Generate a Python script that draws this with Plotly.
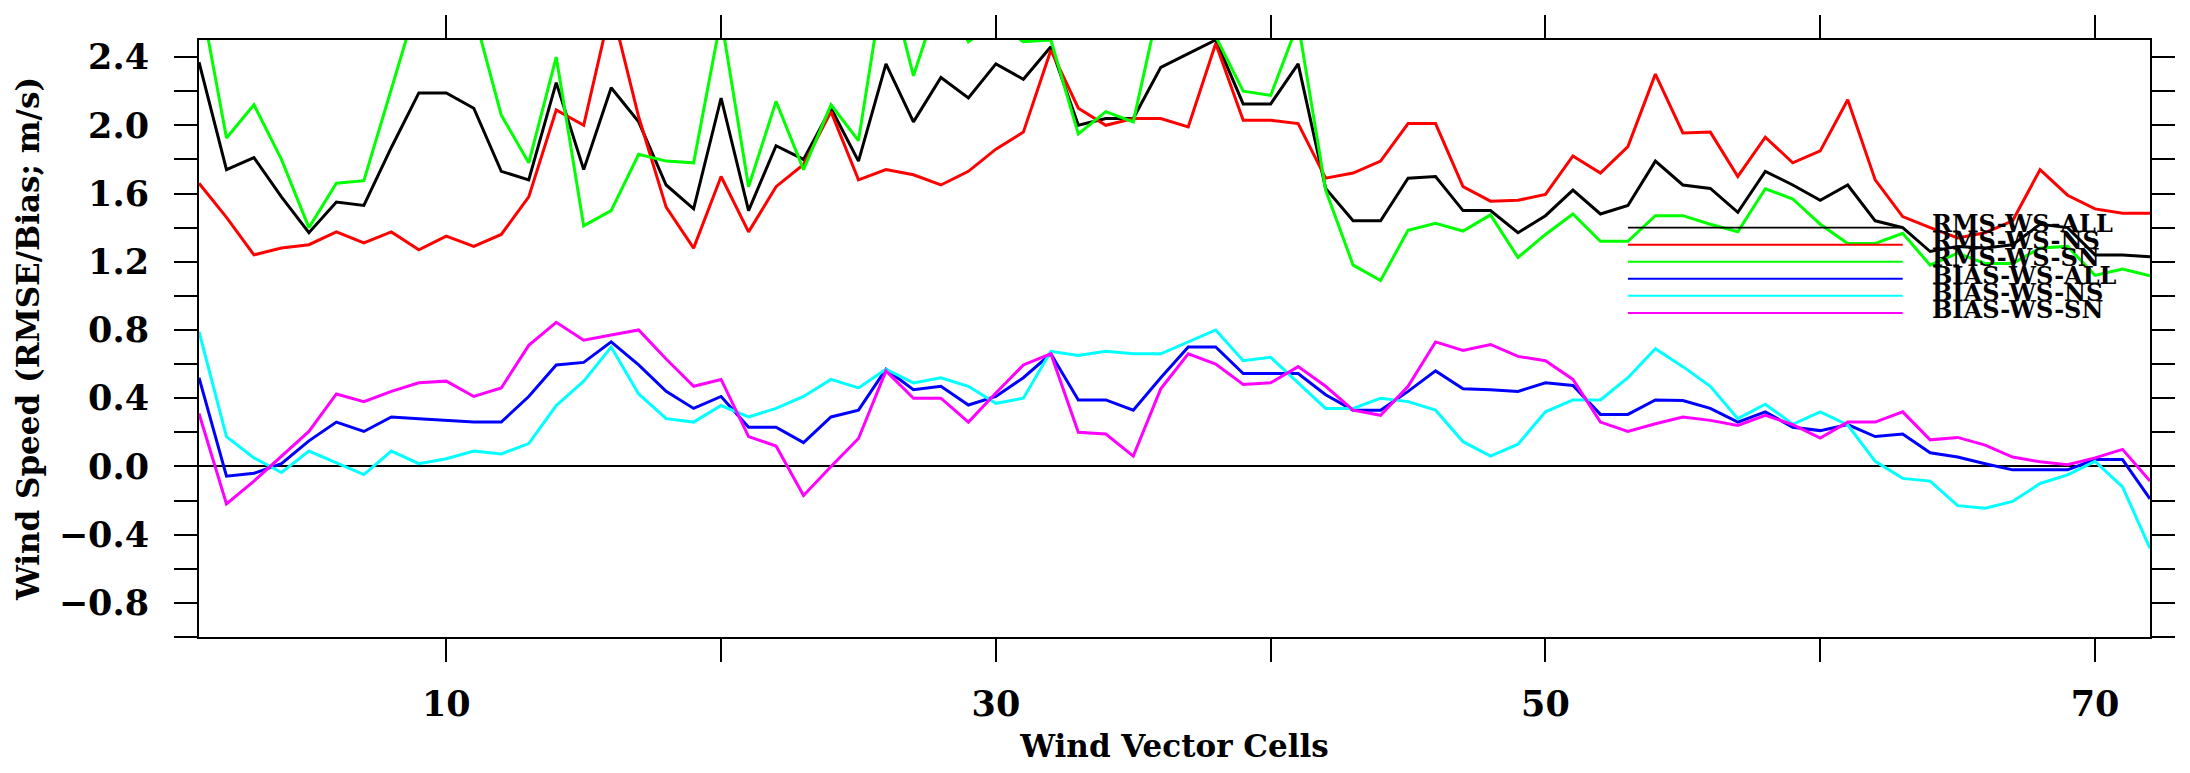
import plotly.graph_objects as go

cells = list(range(1, 73))

rms_ws_all = [2.37, 1.74, 1.81, 1.58, 1.37, 1.55, 1.53, 1.87, 2.19, 2.19,
              2.10, 1.73, 1.68, 2.25, 1.74, 2.22, 2.02, 1.65, 1.51, 2.16,
              1.50, 1.88, 1.80, 2.10, 1.79, 2.36, 2.02, 2.28, 2.16, 2.36,
              2.27, 2.46, 2.00, 2.04, 2.04, 2.34, 2.42, 2.50, 2.125, 2.125,
              2.36, 1.63, 1.44, 1.44, 1.69, 1.70, 1.50, 1.50, 1.37, 1.47,
              1.62, 1.48, 1.53, 1.79, 1.65, 1.63, 1.49, 1.73, 1.65, 1.56,
              1.65, 1.44, 1.40, 1.26, 1.29, 1.28, 1.30, 1.42, 1.40, 1.24,
              1.24, 1.23]

rms_ws_ns = [1.66, 1.46, 1.24, 1.28, 1.30, 1.375, 1.31, 1.375, 1.27, 1.35,
             1.29, 1.36, 1.58, 2.09, 2.00, 2.70, 2.05, 1.52, 1.28, 1.70,
             1.375, 1.64, 1.77, 2.08, 1.68, 1.74, 1.71, 1.65, 1.73, 1.86,
             1.96, 2.44, 2.10, 2.00, 2.04, 2.04, 1.99, 2.48, 2.03, 2.03,
             2.01, 1.69, 1.72, 1.79, 2.01, 2.01, 1.64, 1.555, 1.56, 1.595,
             1.82, 1.72, 1.875, 2.30, 1.955, 1.96, 1.70, 1.93, 1.78, 1.85,
             2.15, 1.68, 1.465, 1.40, 1.34, 1.37, 1.44, 1.74, 1.59, 1.51,
             1.485, 1.485]

rms_ws_sn = [2.80, 1.925, 2.12, 1.80, 1.40, 1.66, 1.675, 2.20, 2.75, 2.85,
             2.66, 2.06, 1.78, 2.40, 1.41, 1.50, 1.83, 1.79, 1.78, 2.63,
             1.64, 2.14, 1.74, 2.12, 1.91, 2.93, 2.29, 2.78, 2.49, 2.60,
             2.49, 2.50, 1.95, 2.08, 2.02, 2.75, 2.75, 2.52, 2.20, 2.175,
             2.60, 1.62, 1.18, 1.09, 1.385, 1.425, 1.38, 1.475, 1.225, 1.36,
             1.48, 1.32, 1.32, 1.47, 1.47, 1.42, 1.376, 1.628, 1.568, 1.42,
             1.307, 1.307, 1.367, 1.18, 1.25, 1.19, 1.19, 1.28, 1.29, 1.12,
             1.157, 1.117]

bias_ws_all = [0.52, -0.057, -0.04, 0.016, 0.15, 0.26, 0.205, 0.29, 0.28, 0.27,
               0.26, 0.26, 0.41, 0.595, 0.61, 0.73, 0.595, 0.44, 0.34, 0.41,
               0.23, 0.23, 0.14, 0.29, 0.33, 0.57, 0.45, 0.47, 0.36, 0.41,
               0.52, 0.66, 0.39, 0.39, 0.33, 0.52, 0.70, 0.70, 0.545, 0.545,
               0.545, 0.42, 0.33, 0.33, 0.44, 0.56, 0.455, 0.45, 0.44, 0.49,
               0.475, 0.305, 0.305, 0.39, 0.386, 0.34, 0.26, 0.32, 0.23, 0.21,
               0.245, 0.175, 0.19, 0.08, 0.055, 0.016, -0.02, -0.02, -0.02, 0.04,
               0.04, -0.19]

bias_ws_ns = [0.79, 0.175, 0.05, -0.036, 0.09, 0.02, -0.048, 0.09, 0.016, 0.045,
              0.09, 0.073, 0.134, 0.357, 0.50, 0.70, 0.425, 0.28, 0.26, 0.357,
              0.29, 0.34, 0.41, 0.51, 0.46, 0.57, 0.49, 0.52, 0.47, 0.37,
              0.40, 0.675, 0.65, 0.675, 0.66, 0.66, 0.73, 0.80, 0.62, 0.64,
              0.49, 0.34, 0.34, 0.40, 0.38, 0.33, 0.145, 0.06, 0.13, 0.32,
              0.39, 0.39, 0.52, 0.69, 0.585, 0.47, 0.28, 0.365, 0.247, 0.32,
              0.243, 0.03, -0.07, -0.086, -0.23, -0.245, -0.205, -0.10, -0.05, 0.03,
              -0.12, -0.48]

bias_ws_sn = [0.31, -0.22, -0.086, 0.06, 0.205, 0.425, 0.38, 0.44, 0.49, 0.50,
              0.41, 0.46, 0.71, 0.845, 0.74, 0.77, 0.80, 0.63, 0.47, 0.51,
              0.175, 0.12, -0.17, 0.0, 0.164, 0.56, 0.40, 0.40, 0.26, 0.43,
              0.595, 0.66, 0.20, 0.19, 0.06, 0.455, 0.66, 0.60, 0.48, 0.49,
              0.585, 0.47, 0.33, 0.30, 0.47, 0.73, 0.68, 0.715, 0.645, 0.62,
              0.51, 0.26, 0.205, 0.25, 0.29, 0.27, 0.24, 0.30, 0.245, 0.166,
              0.26, 0.26, 0.32, 0.156, 0.17, 0.125, 0.055, 0.027, 0.01, 0.05,
              0.10, -0.086]

series_names = ["RMS-WS-ALL", "RMS-WS-NS", "RMS-WS-SN",
                "BIAS-WS-ALL", "BIAS-WS-NS", "BIAS-WS-SN"]
series_values = [rms_ws_all, rms_ws_ns, rms_ws_sn,
                 bias_ws_all, bias_ws_ns, bias_ws_sn]
series_colors = ["#000000", "#ff0000", "#00ff00", "#0000ff", "#00ffff", "#ff00ff"]

x_tick_vals = [10, 20, 30, 40, 50, 60, 70]
x_tick_text = ["10", "", "30", "", "50", "", "70"]
y_tick_vals = [-1.0, -0.8, -0.6, -0.4, -0.2, 0.0, 0.2, 0.4, 0.6, 0.8,
               1.0, 1.2, 1.4, 1.6, 1.8, 2.0, 2.2, 2.4]
y_tick_text = ["", "\u22120.8", "", "\u22120.4", "", "0.0", "", "0.4", "", "0.8",
               "", "1.2", "", "1.6", "", "2.0", "", "2.4"]

FONT = "DejaVu Serif"

fig = go.Figure()
for name, vals, col in zip(series_names, series_values, series_colors):
    fig.add_trace(go.Scatter(x=cells, y=vals, mode="lines", name=name,
                             line=dict(color=col, width=3),
                             showlegend=False, hoverinfo="skip"))

# in-plot legend (drawn in data coordinates, like the original)
leg_x0, leg_x1, leg_xt = 53.0, 63.0, 64.0
leg_y0, leg_dy = 1.4, 0.1
shapes = []
annotations = []
for i, (name, col) in enumerate(zip(series_names, series_colors)):
    yy = leg_y0 - i * leg_dy
    shapes.append(dict(type="line", xref="x", yref="y", x0=leg_x0, x1=leg_x1,
                       y0=yy, y1=yy, line=dict(color=col, width=1.6 if i == 0 else 2)))
    annotations.append(dict(x=leg_xt, y=yy + 0.022, xref="x", yref="y",
                            text="<b>" + name + "</b>",
                            showarrow=False, xanchor="left", yanchor="middle",
                            font=dict(family=FONT, size=24, color="black")))

fig.update_layout(
    width=2174, height=757,
    margin=dict(l=191, r=14, t=7, b=111, pad=0),
    paper_bgcolor="white", plot_bgcolor="white",
    shapes=shapes, annotations=annotations,
    font=dict(family=FONT, color="black"),
)
fig.update_xaxes(
    range=[1, 72], tickmode="array", tickvals=x_tick_vals, ticktext=x_tick_text,
    ticks="outside", ticklen=23, tickwidth=2, tickcolor="black",
    showline=True, linewidth=2, linecolor="black", mirror="ticks",
    showgrid=False, zeroline=False,
    tickfont=dict(family=FONT, size=35, color="black", weight="bold"),
    ticklabelstandoff=12,
    title=dict(text="Wind Vector Cells",
               font=dict(family=FONT, size=31, color="black", weight="bold"),
               standoff=12),
)
fig.update_yaxes(
    range=[-1.0, 2.5], tickmode="array", tickvals=y_tick_vals, ticktext=y_tick_text,
    ticks="outside", ticklen=23, tickwidth=2, tickcolor="black",
    showline=True, linewidth=2, linecolor="black", mirror="ticks",
    showgrid=False, zeroline=True, zerolinecolor="black", zerolinewidth=1.6,
    tickfont=dict(family=FONT, size=35, color="black", weight="bold"),
    ticklabelstandoff=18,
    title=dict(text="Wind Speed (RMSE/Bias; m/s)",
               font=dict(family=FONT, size=31, color="black", weight="bold"),
               standoff=10),
)

fig.write_html("out.html")
